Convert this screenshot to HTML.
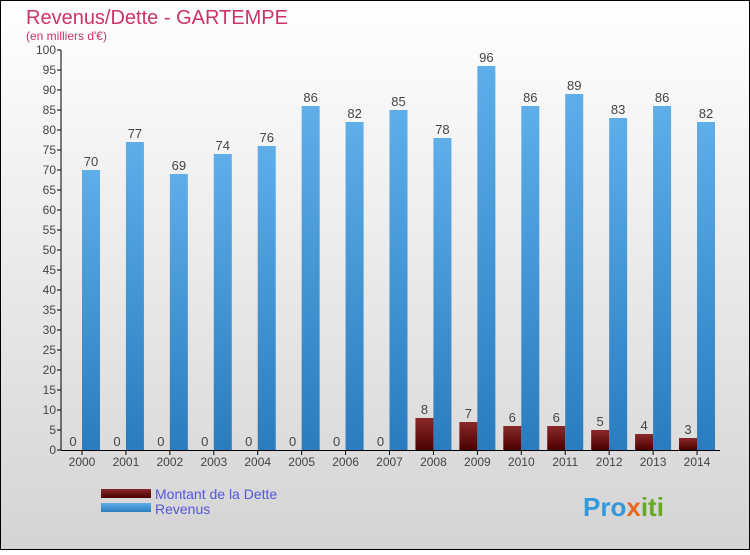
<!DOCTYPE html>
<html><head><meta charset="utf-8"><style>
html,body{margin:0;padding:0}
body{width:750px;height:550px;overflow:hidden;font-family:"Liberation Sans",sans-serif}
</style></head><body>
<svg id="chart" width="750" height="550" xmlns="http://www.w3.org/2000/svg">
<defs>
<linearGradient id="bg" x1="0" y1="0" x2="0" y2="1"><stop offset="0" stop-color="#ffffff"/><stop offset="1" stop-color="#d4d4d4"/></linearGradient>
<linearGradient id="blue" x1="0" y1="0" x2="0" y2="1"><stop offset="0" stop-color="#5eaeea"/><stop offset="1" stop-color="#2a7cbe"/></linearGradient>
<linearGradient id="red" x1="0" y1="0" x2="0" y2="1"><stop offset="0" stop-color="#8a2a2a"/><stop offset="1" stop-color="#4a0000"/></linearGradient>
</defs>
<rect x="0.5" y="0.5" width="749" height="549" fill="url(#bg)" stroke="#000"/>
<text x="26" y="24" font-size="20" fill="#cc3366">Revenus/Dette - GARTEMPE</text>
<text x="26" y="40" font-size="12" fill="#cc3366">(en milliers d'€)</text>
<g id="axes"></g>
<g id="bars"></g>
<g>
<rect x="101" y="489" width="50" height="9" fill="url(#red)"/>
<text x="155" y="499" font-size="14" fill="#5555dd">Montant de la Dette</text>
<rect x="101" y="503" width="50" height="9" fill="url(#blue)"/>
<text x="155" y="514" font-size="14" fill="#5555dd">Revenus</text>
</g>
<text x="583" y="516" font-size="26" font-weight="bold" fill="#3399dd">Pro<tspan fill="#ee6622">x</tspan><tspan fill="#66aa22">iti</tspan></text>
</svg>
<script>
const years=["2000","2001","2002","2003","2004","2005","2006","2007","2008","2009","2010","2011","2012","2013","2014"];
const dette=[0,0,0,0,0,0,0,0,8,7,6,6,5,4,3];
const revenus=[70,77,69,74,76,86,82,85,78,96,86,89,83,86,82];
const yTicks=[0,5,10,15,20,25,30,35,40,45,50,55,60,65,70,75,80,85,90,95,100];
const NS="http://www.w3.org/2000/svg";
const y0=450,y1=50,yMax=100,xAxis=61,c0=82,step=43.93,bw=18;
const ys=v=>y0-(v/yMax)*(y0-y1);
const xs=i=>c0+i*step;
function mk(tag,attrs,parent,txt){const e=document.createElementNS(NS,tag);for(const k in attrs)e.setAttribute(k,attrs[k]);if(txt!==undefined)e.textContent=txt;parent.appendChild(e);return e;}
const ax=document.getElementById('axes'),bars=document.getElementById('bars');
let l=mk('line',{x1:xAxis,y1:y1,x2:xAxis,y2:y0,stroke:'#000'},ax);


l=mk('line',{x1:xAxis,y1:y0+0.5,x2:720,y2:y0+0.5,stroke:'#000'},ax);


yTicks.forEach(t=>{const y=ys(t);
 let tk=mk('line',{x1:xAxis-4,y1:y,x2:xAxis,y2:y,stroke:'#000'},ax);
 
 
 let tx=mk('text',{x:xAxis-5,y:y+4,'font-size':12,'text-anchor':'end',fill:'#444'},ax,String(t));
 
 });
years.forEach((yr,i)=>{const c=xs(i);
 let tk=mk('line',{x1:c,y1:y0,x2:c,y2:y0+5,stroke:'#000'},ax);
 
 
 let tx=mk('text',{x:c,y:y0+16,'font-size':12,'text-anchor':'middle',fill:'#444'},ax,yr);
 
 
 const d=dette[i],r=revenus[i];
 let rb=mk('rect',{x:c-bw,y:ys(d),width:bw,height:Math.max(y0-ys(d),0.01),fill:'url(#red)'},bars);
 
 
 let rl=mk('text',{x:c-bw/2,y:ys(d)-4,'font-size':13,'text-anchor':'middle',fill:'#444'},bars,String(d));
 
 
 let bb=mk('rect',{x:c,y:ys(r),width:bw,height:y0-ys(r),fill:'url(#blue)'},bars);
 
 
 let bl=mk('text',{x:c+bw/2,y:ys(r)-4,'font-size':13,'text-anchor':'middle',fill:'#444'},bars,String(r));
 
 
});
</script>
</body></html>
